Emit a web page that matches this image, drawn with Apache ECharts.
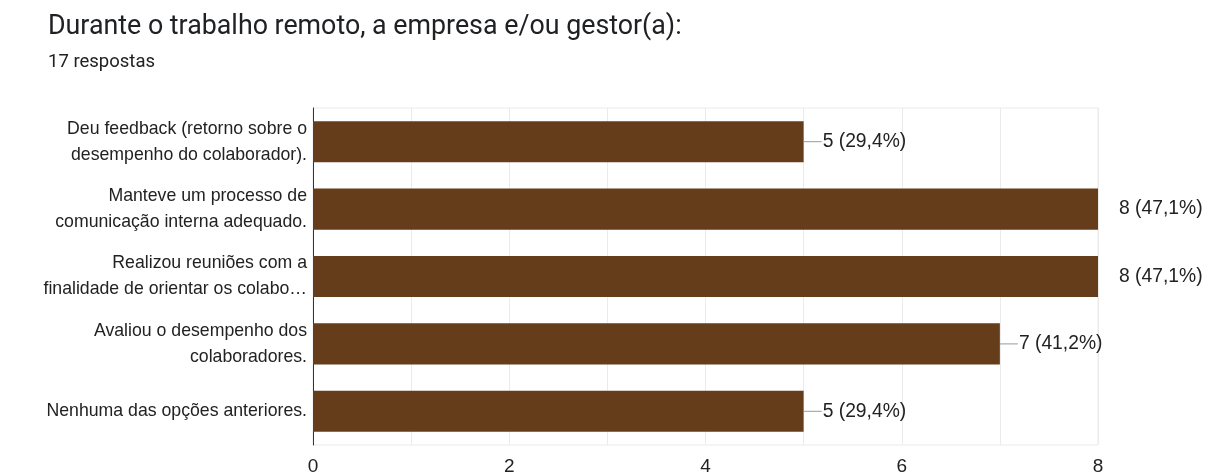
<!DOCTYPE html>
<html><head><meta charset="utf-8">
<script src="https://cdn.jsdelivr.net/npm/echarts@6/dist/echarts.min.js"></script>
<style>html,body{margin:0;padding:0;background:#fff}#c{width:1205px;height:476px}</style>
</head><body><div id="c"></div>
<script>
const titleText = 'Durante o trabalho remoto, a empresa e/ou gestor(a):';
const subtitleText = '17 respostas';
const categories = [
  'Deu feedback (retorno sobre o\ndesempenho do colaborador).',
  'Manteve um processo de\ncomunicação interna adequado.',
  'Realizou reuniões com a\nfinalidade de orientar os colabo…',
  'Avaliou o desempenho dos\ncolaboradores.',
  'Nenhuma das opções anteriores.'
];
const counts = [5, 8, 8, 7, 5];
const percents = ['29,4%', '47,1%', '47,1%', '41,2%', '29,4%'];
const xTicks = [0, 2, 4, 6, 8];

const chart = echarts.init(document.getElementById('c'));
const maxVal = Math.max(...counts);
chart.setOption({
  animation: false,
  title: [
    {text: titleText, left: 43, top: 9, textStyle: {fontFamily: 'Roboto', fontSize: 26.8, fontWeight: 'normal', color: '#202124'}},
    {text: subtitleText, left: 43, top: 48, textStyle: {fontFamily: 'Roboto', fontSize: 18.5, fontWeight: 'normal', color: '#202124'}}
  ],
  grid: {left: 313, right: 107, top: 108, bottom: 31, show: true, borderColor: '#ebebeb', borderWidth: 1},
  xAxis: {
    type: 'value', min: 0, max: 8, interval: 1,
    axisLine: {show: false}, axisTick: {show: false},
    splitLine: {lineStyle: {color: '#ebebeb'}},
    axisLabel: {
      fontFamily: 'Liberation Sans', fontSize: 19, color: '#222', margin: 12,
      formatter: v => xTicks.includes(v) ? String(v) : ''
    }
  },
  yAxis: {
    type: 'category', data: categories, inverse: true,
    axisLine: {show: true, lineStyle: {color: '#333', width: 1}},
    axisTick: {show: false},
    axisLabel: {fontFamily: 'Liberation Sans', fontSize: 17.7, color: '#222', lineHeight: 26, margin: 6, align: 'right'}
  },
  series: [{
    type: 'bar',
    data: counts,
    barCategoryGap: '39%',
    itemStyle: {color: '#653d1b'},
    label: {
      show: true, position: 'right', distance: 0,
      formatter: p => (p.value === maxVal ? '{gap|}' : '{line|}') + '{t|' + p.value + ' (' + percents[p.dataIndex] + ')}',
      rich: {
        line: {width: 18, height: 1, backgroundColor: '#999', verticalAlign: 'middle'},
        gap: {width: 20, height: 1},
        t: {fontFamily: 'Liberation Sans', fontSize: 19.3, color: '#222', padding: [0, 0, 0, 1]}
      }
    }
  }]
});
</script></body></html>
